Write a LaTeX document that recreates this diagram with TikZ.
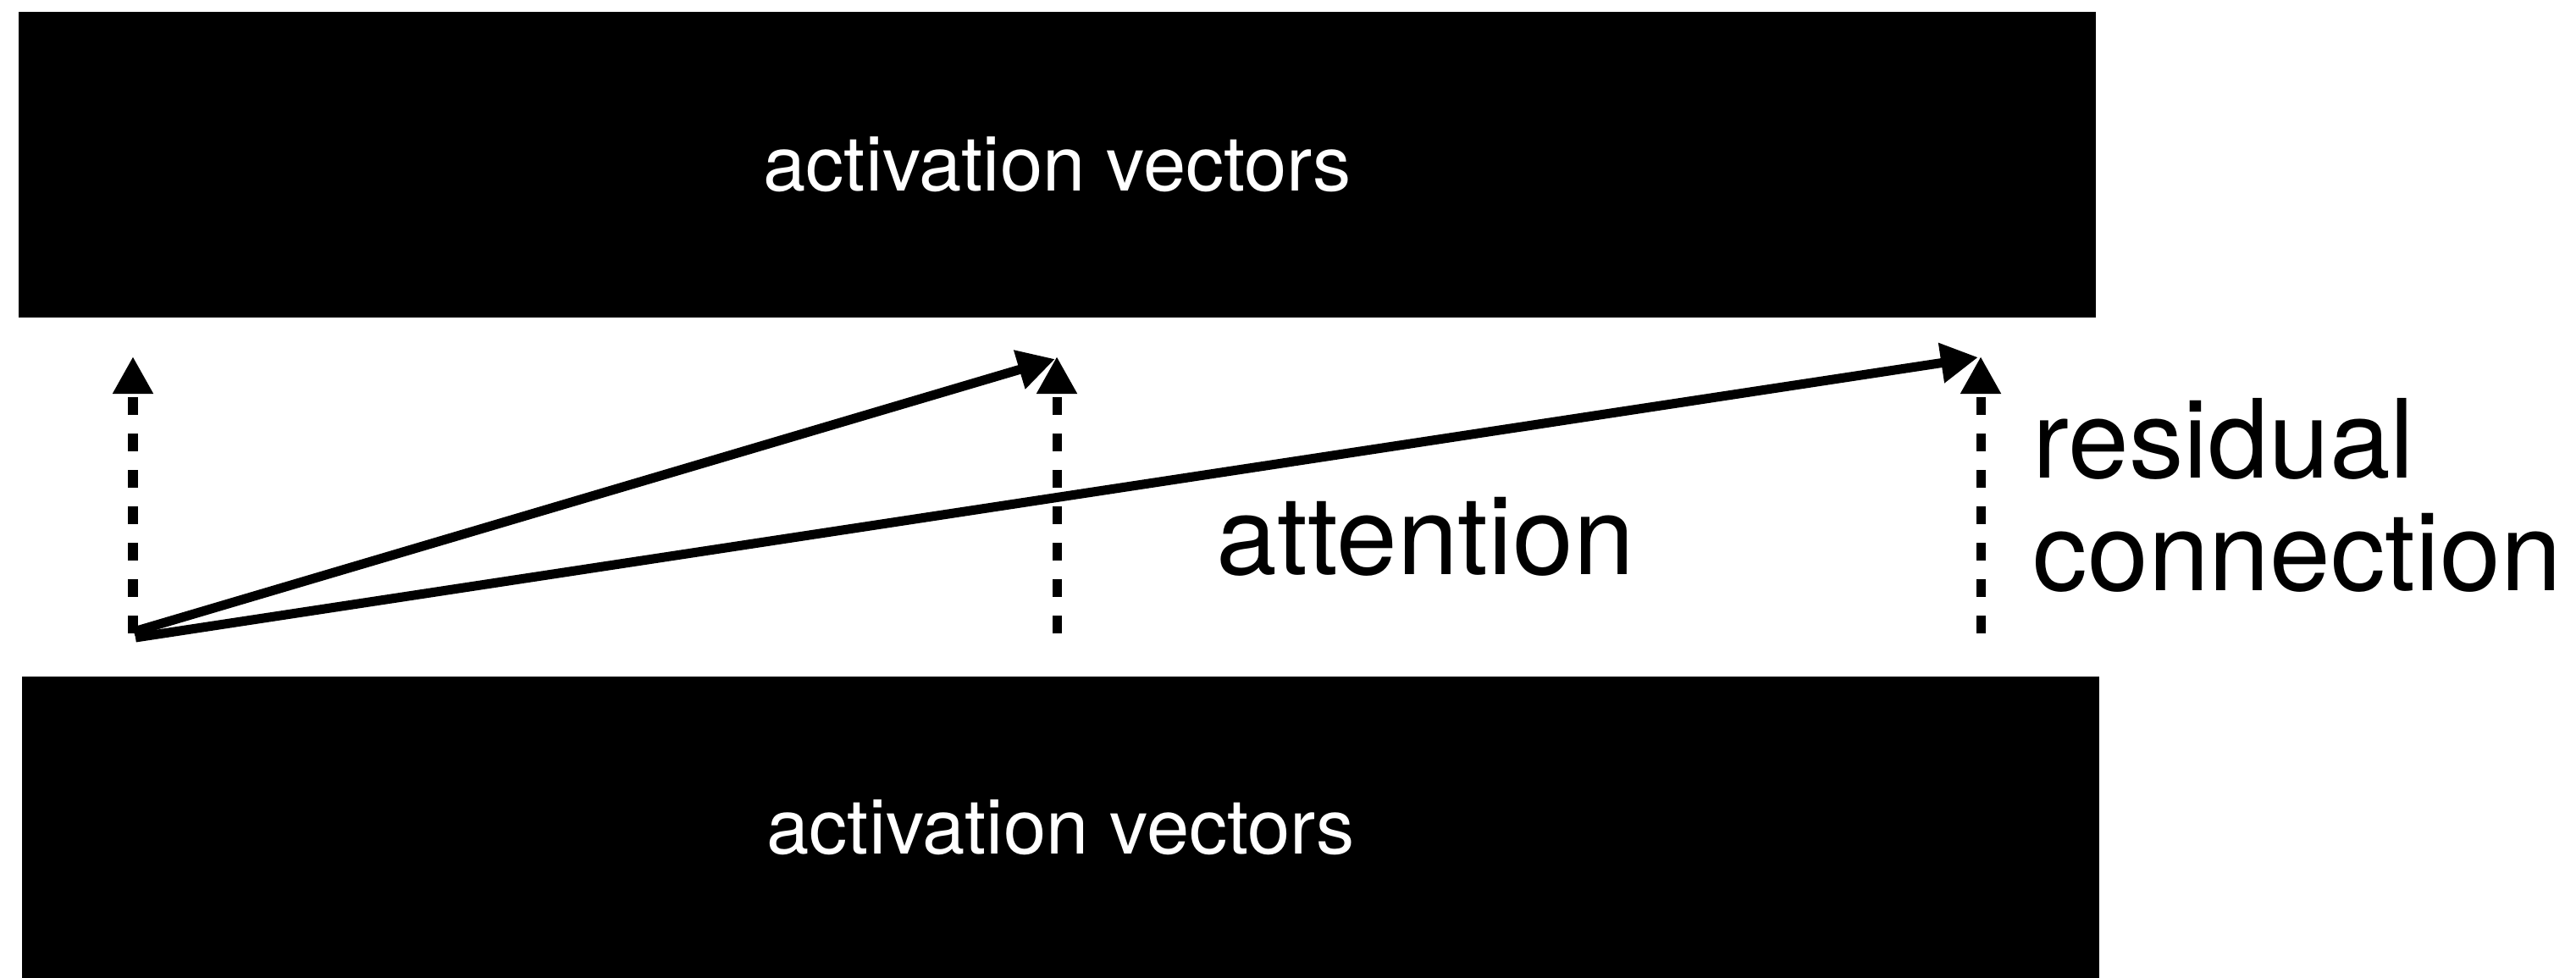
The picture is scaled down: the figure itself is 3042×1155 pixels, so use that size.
\documentclass[tikz,border=0pt]{standalone}
\usepackage{fontspec}
\setmainfont{TeX Gyre Heros}
\usetikzlibrary{arrows.meta}

\tikzset{
  layer/.style={fill=black, draw=none, inner sep=0pt, text=white,
    font=\fontsize{25.7}{30}\selectfont},
  label/.style={inner sep=0pt, anchor=base west,
    font=\fontsize{36.7}{44}\selectfont},
  link/.style={line width=0.11cm, line cap=butt,
    -{Triangle[length=0.44cm, width=0.45cm]}},
  skip/.style={link, dash pattern=on 0.21cm off 0.22cm}
}

\begin{document}
\begin{tikzpicture}[x=0.01cm, y=-0.01cm]
  \useasboundingbox (0,0) rectangle (3042,1155);

  % activation layers
  \node[layer, minimum width=24.51cm, minimum height=3.61cm] (upper)
    at (1248.5,194.5) {activation vectors};
  \node[layer, minimum width=24.51cm, minimum height=3.56cm] (lower)
    at (1252.5,977) {activation vectors};

  % arrow end points
  \coordinate (s0) at (157,748);
  \coordinate (s1) at (1248,748);
  \coordinate (s2) at (2339,748);
  \coordinate (t0) at (157,421);
  \coordinate (t1) at (1248,421);
  \coordinate (t2) at (2339,421);
  \coordinate (a0) at (158,746);
  \coordinate (b0) at (160,753);
  \coordinate (a1) at (1246,424);
  \coordinate (b2) at (2336,422);

  % residual connections
  \draw[skip] (s0) -- (t0);
  \draw[skip] (s1) -- (t1);
  \draw[skip] (s2) -- (t2);

  % attention
  \draw[link] (a0) -- (a1);
  \draw[link] (b0) -- (b2);

  % labels
  \node[label] (att) at (1436,678) {attention};
  \node[label] (res) at (2400,564) {residual};
  \node[label] (con) at (2400,697) {connection};
\end{tikzpicture}
\end{document}
